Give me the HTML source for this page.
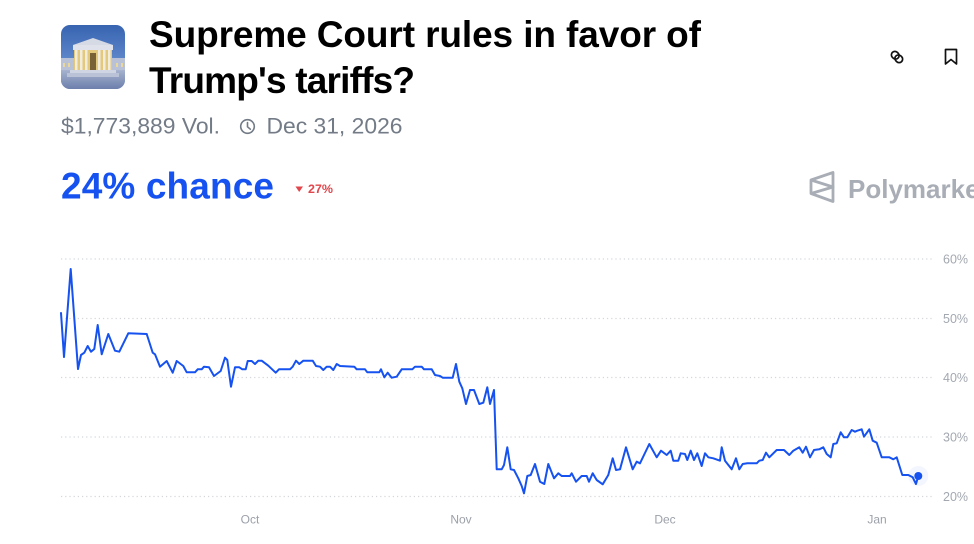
<!DOCTYPE html>
<html>
<head>
<meta charset="utf-8">
<style>
html,body{margin:0;padding:0;background:#fff;}
body{width:974px;height:544px;overflow:hidden;}
svg{display:block;}
text{font-family:"Liberation Sans",sans-serif;}
</style>
</head>
<body>
<svg width="974" height="544" viewBox="0 0 974 544" xmlns="http://www.w3.org/2000/svg">
  <defs>
    <clipPath id="logoClip"><rect x="61" y="25" width="64" height="64" rx="9" ry="9"/></clipPath>
    <linearGradient id="sky" x1="0" y1="0" x2="0" y2="1">
      <stop offset="0" stop-color="#3763b0"/>
      <stop offset="0.5" stop-color="#5b84c8"/>
      <stop offset="1" stop-color="#86a2d3"/>
    </linearGradient>
    <linearGradient id="plaza" x1="0" y1="0" x2="0" y2="1">
      <stop offset="0" stop-color="#a7b3cf"/>
      <stop offset="1" stop-color="#6c7fab"/>
    </linearGradient>
  </defs>

  <!-- Logo image -->
  <g clip-path="url(#logoClip)">
    <rect x="61" y="25" width="64" height="64" fill="url(#sky)"/>
    <!-- side wings -->
    <rect x="61" y="58" width="13" height="14" fill="#b9c1d6"/>
    <rect x="112" y="58" width="13" height="14" fill="#b9c1d6"/>
    <g fill="#e9d89a">
      <rect x="63" y="63" width="2" height="4"/><rect x="68" y="63" width="2" height="4"/>
      <rect x="116" y="63" width="2" height="4"/><rect x="121" y="63" width="2" height="4"/>
    </g>
    <!-- pediment -->
    <polygon points="73,45 93,38 113,45" fill="#d6dae4"/>
    <rect x="73" y="45" width="40" height="5" fill="#dfe2ea"/>
    <!-- columns area -->
    <rect x="74" y="50" width="38" height="20" fill="#e3c97e"/>
    <g fill="#f2ecdc">
      <rect x="75" y="50" width="2.5" height="20"/>
      <rect x="80" y="50" width="2.5" height="20"/>
      <rect x="85" y="50" width="2.5" height="20"/>
      <rect x="98" y="50" width="2.5" height="20"/>
      <rect x="103" y="50" width="2.5" height="20"/>
      <rect x="108" y="50" width="2.5" height="20"/>
    </g>
    <rect x="90" y="53" width="6" height="17" fill="#7a6237"/>
    <rect x="61" y="70" width="64" height="19" fill="url(#plaza)"/>
    <rect x="70" y="70" width="46" height="3" fill="#cfd5e3"/>
    <rect x="67" y="73" width="52" height="4" fill="#b9c2d7"/>
  </g>

  <!-- Title -->
  <text x="149" y="47" font-size="37" font-weight="700" fill="#000" textLength="552" lengthAdjust="spacing">Supreme Court rules in favor of</text>
  <text x="149" y="93" font-size="37" font-weight="700" fill="#000" textLength="266" lengthAdjust="spacing">Trump's tariffs?</text>

  <!-- top-right icons -->
  <g fill="none" stroke="#111" stroke-width="1.7" stroke-linecap="round" stroke-linejoin="round">
    <g transform="rotate(45 897 57)">
      <rect x="890.5" y="53.5" width="8" height="7" rx="3.5"/>
      <rect x="895.5" y="53.5" width="8" height="7" rx="3.5"/>
    </g>
    <path d="M945.5 49.5 H956.5 V64 L951 59.5 L945.5 64 Z"/>
  </g>

  <!-- Subtitle -->
  <text x="61" y="133.5" font-size="22" fill="#737b87" textLength="159" lengthAdjust="spacingAndGlyphs">$1,773,889 Vol.</text>
  <g fill="none" stroke="#737b87" stroke-width="1.6" stroke-linecap="round">
    <circle cx="247.5" cy="126.5" r="6.8"/>
    <path d="M247.5 122.5 V126.8 L250.3 129.2"/>
  </g>
  <text x="266.5" y="133.5" font-size="22" fill="#737b87" textLength="136" lengthAdjust="spacingAndGlyphs">Dec 31, 2026</text>

  <!-- chance -->
  <text x="61" y="198.5" font-size="37" font-weight="700" fill="#1652f0" textLength="213" lengthAdjust="spacing">24% chance</text>
  <polygon points="295.5,186.5 303,186.5 299.2,192" fill="#e0464b"/>
  <text x="308" y="193" font-size="12" font-weight="700" fill="#e0464b" textLength="25" lengthAdjust="spacingAndGlyphs">27%</text>

  <!-- Polymarket watermark -->
  <g fill="none" stroke="#a9aeb6" stroke-width="2.8" stroke-linejoin="round">
    <path d="M811 180 L833 172.5 V201.5 L811 193.5 Z"/>
    <path d="M811 180 L833 187 L811 193.5"/>
  </g>
  <text x="848" y="198" font-size="26" font-weight="700" fill="#a9aeb6">Polymarket</text>

  <!-- Gridlines -->
  <g stroke="#d3d6db" stroke-width="1.2" stroke-dasharray="1.2 3" >
    <line x1="61" y1="259" x2="933" y2="259"/>
    <line x1="61" y1="318.5" x2="933" y2="318.5"/>
    <line x1="61" y1="377.5" x2="933" y2="377.5"/>
    <line x1="61" y1="437" x2="933" y2="437"/>
    <line x1="61" y1="496.5" x2="933" y2="496.5"/>
  </g>

  <!-- Y labels -->
  <g font-size="12.5" fill="#a3a8b0">
    <text x="943" y="263.5">60%</text>
    <text x="943" y="323">50%</text>
    <text x="943" y="382">40%</text>
    <text x="943" y="441.5">30%</text>
    <text x="943" y="501">20%</text>
  </g>

  <!-- X labels -->
  <g font-size="12" fill="#9ca1a9" text-anchor="middle">
    <text x="250" y="523.5">Oct</text>
    <text x="461" y="523.5">Nov</text>
    <text x="665" y="523.5">Dec</text>
    <text x="877" y="523.5">Jan</text>
  </g>

  <!-- Series -->
  <polyline fill="none" stroke="#1652f0" stroke-width="2" stroke-linejoin="round" stroke-linecap="round" points="
61,313 64,357 70.7,269 78,369 81,355 84.3,352.7 87.7,346 91,351.7 94.3,349 97.7,325 101.7,354.3 108.3,334 115,350.7 119.3,351.7 128.3,333.3 146.7,334 152.7,352.7 155,354.3 160,366.7 166.7,361 172.7,372.7 176.7,361 183.3,366 186.7,372.3 195,372.3 197.7,369.3 201.7,369.3 204,366.7 209,367.3 214,376 220.7,371 225,357.7 227.3,360 231,386.7 235,367.3 239.3,367.3 242.3,369.3 245.7,369.3 247.7,361 251.7,361 255,364 258.3,360.7 261.7,360.7 268.3,365.7 275.7,372.7 279,369.3 290,369.3 292.7,366.7 296,360.7 299.3,364 303.3,360.7 312.7,360.7 316,366 320,366.7 323.3,370 326.7,366.7 330,366.7 333.3,370 336.7,364 340,366 354.3,366.7 356.7,369.3 365,369.3 367.3,372.3 379.3,372.3 381,369.3 384.3,377.3 387.7,372.7 391.7,377.7 396.7,376.7 401.7,369.3 412.3,369.3 415,366.7 421.7,366.7 424,369.3 431.7,369.3 435,375 440,376 442.7,377.7 452.7,377.7 456,364 459.3,381.7 462.3,388.3 466,404 470,390 474,390 479.3,404 483.3,402.7 487.3,387.3 490,404 494,390 496.7,469.3 501.7,469.3 504,465 507.3,447.3 510.7,469.3 514,470 518.3,478.3 521.7,486 524,493.3 527.3,476 530.7,475 535,464 540,481.7 544.3,484 548.3,464 554,478.3 558.3,473.3 561.7,476 570,476 571.7,473.3 576,481.7 581.7,476 586.7,476 589,481.7 592.7,473.3 596.7,480 602.7,484.3 608.3,475 612.7,458.3 616,470 620,469.3 626,447.3 632.7,469.3 636.7,461.7 640,463.3 649.3,444 656.7,457.3 661,450.7 666.7,455 670.7,450.7 673.3,460.7 678.3,460.7 680.7,453.3 685,454 687.3,460 690.7,450.7 694,460 697.3,453.3 701.7,466 705,453.3 708.3,457.3 713.3,458.3 720,460.7 721.7,447.3 725,460.7 731.7,469.3 736,458.3 739.3,469.3 742.7,464 747.3,463.3 756.7,463.3 759.3,460.7 762.7,460 766,452.7 769.3,457.3 776.7,450 784,450 789.3,455 793.3,450.7 799.3,447.3 802.7,452.7 806,446.7 810,457.3 814,450 819.3,449.3 823.3,447.3 826.7,454 830.7,457.3 833.3,444 836.7,443.3 840.7,432.3 844,437.3 847.3,437.3 851.7,430 855,431.7 857.3,430.7 861.7,429.3 864,436.7 869.3,429.3 872.7,440.7 876.7,442.7 881.7,457.3 889.3,457.3 893.3,459.3 896.7,457.3 902.3,475 908.3,475 912.7,477.3 916,484 918.3,476"/>

  <circle cx="918.3" cy="476" r="10" fill="#1652f0" fill-opacity="0.05"/>
  <circle cx="918.3" cy="476" r="4" fill="#1652f0"/>
</svg>
</body>
</html>
